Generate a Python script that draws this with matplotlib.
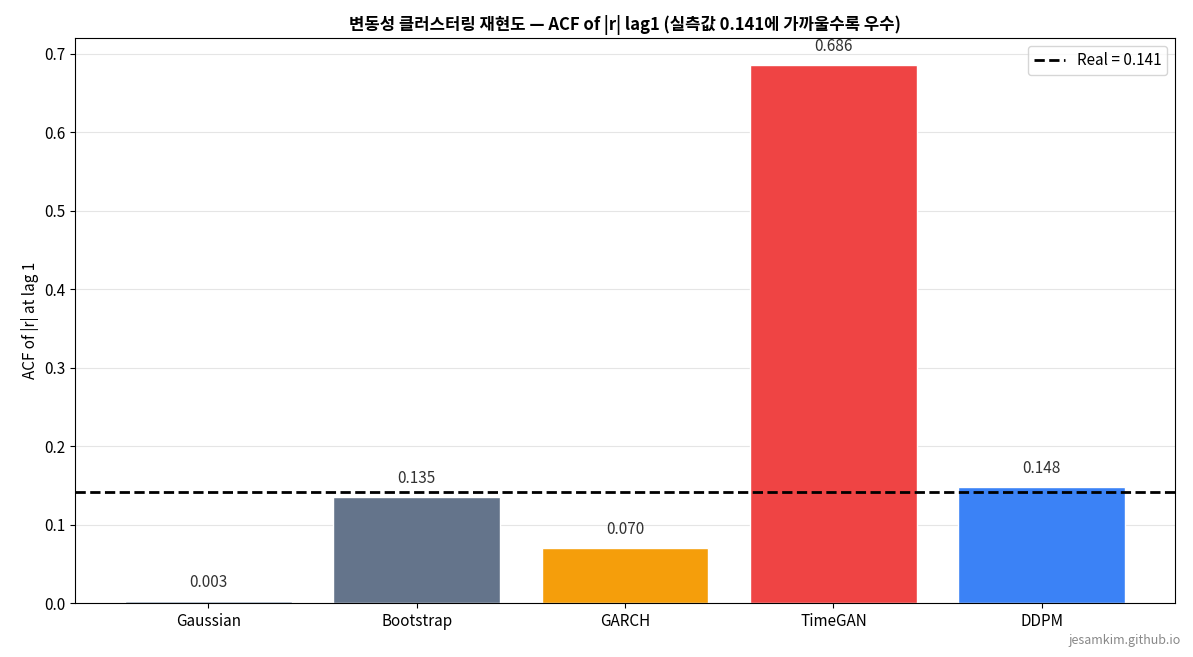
import matplotlib
matplotlib.use('Agg')
import matplotlib.pyplot as plt

plt.rcParams['font.family'] = ['Noto Sans CJK KR', 'DejaVu Sans']

models = ['Gaussian', 'Bootstrap', 'GARCH', 'TimeGAN', 'DDPM']
acf_values = [0.003, 0.135, 0.070, 0.686, 0.148]
colors = ['#94a3b8', '#64748b', '#f59e0b', '#ef4444', '#3b82f6']
real_acf = 0.141

fig = plt.figure(figsize=(11.93, 6.57), dpi=100)
ax = fig.add_axes([0.063, 0.082, 0.922, 0.86])

bars = ax.bar(models, acf_values, color=colors, edgecolor='white', linewidth=1, width=0.8)
for b, v in zip(bars, acf_values):
    ax.text(b.get_x() + b.get_width() / 2, v + 0.013, f'{v:.3f}',
            ha='center', va='bottom', fontsize=11, color='#333333')

ax.axhline(real_acf, color='black', linestyle='--', linewidth=2, label=f'Real = {real_acf}')
ax.set_ylim(0, 0.72)
ax.set_ylabel('ACF of |r| at lag 1', fontsize=11)
ax.set_title('변동성 클러스터링 재현도 — ACF of |r| lag1 (실측값 0.141에 가까울수록 우수)',
             fontsize=12, fontweight='bold')
ax.yaxis.grid(True, color='#e5e5e5')
ax.set_axisbelow(True)
ax.tick_params(labelsize=11)
ax.legend(loc='upper right', fontsize=11)

fig.text(0.99, 0.015, 'jesamkim.github.io', ha='right', va='bottom', fontsize=9, color='#888888')

fig.savefig('out.png', dpi=100)
